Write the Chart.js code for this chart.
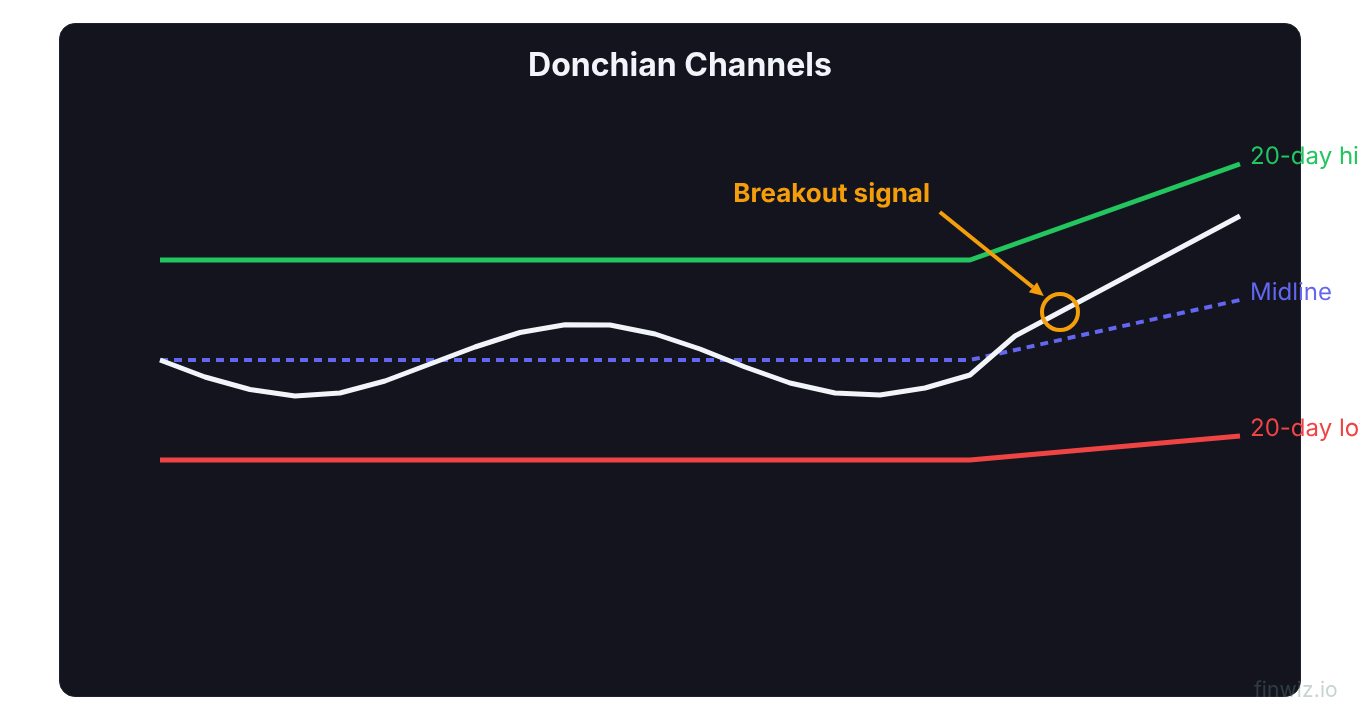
<!DOCTYPE html>
<html>
<head>
<meta charset="utf-8">
<script src="https://cdn.jsdelivr.net/npm/chart.js@4"></script>
<style>
html,body{margin:0;padding:0;width:1360px;height:720px;overflow:hidden;background:#fff;font-family:Inter,sans-serif}
#card{position:absolute;left:59px;top:23px;width:1240px;height:672px;background:#13141e;border:1px solid #20212e;border-radius:16px}
#wrap{position:absolute;left:0;top:0;width:1360px;height:720px}
#mark{position:absolute;left:1254px;top:677px;font:21px Inter,sans-serif;line-height:26px;letter-spacing:.1px;color:rgba(100,135,125,.36)}
</style>
</head>
<body>
<div id="card"></div>
<div id="wrap"><canvas id="c" width="1360" height="720"></canvas></div>
<div id="mark">finwiz.io</div>
<script>
const days = ['0','1','2','3','4','5','6','7','8','9','10','11','12','13','14','15','16','17','18','19','20','21','22','23','24'];
const high = [120,null,null,null,null,null,null,null,null,null,null,null,null,null,null,null,null,null,120,null,null,null,null,null,139.2];
const low = [80,null,null,null,null,null,null,null,null,null,null,null,null,null,null,null,null,null,80,null,null,null,null,null,84.8];
const mid = [100,null,null,null,null,null,null,null,null,null,null,null,null,null,null,null,null,null,100,null,null,null,null,null,112];
const close = [100,96.6,94.1,92.8,93.4,95.8,99.2,102.6,105.5,107.05,107,105.2,102.2,98.6,95.4,93.4,93,94.4,97,104.8,null,null,null,null,128.8];
const signal = [null,null,null,null,null,null,null,null,null,null,null,null,null,null,null,null,null,null,null,null,109.6,null,null,null,null];
const seriesLabels = ['20-day high','Midline','20-day low'];
const titleText = 'Donchian Channels';
const noteText = 'Breakout signal';
const arrowFrom = {x:17.33,y:129.6};
const arrowTo = {x:19.64,y:112.8};
const noteAt = {x:12.74,y:133.2};

const overlay = {
  id:'overlay',
  afterLayout(chart){
    chart.titleBlock.left = 0;
    chart.titleBlock.right = 1360;
  },
  afterDatasetsDraw(chart){
    const {ctx,scales:{x,y}} = chart;
    const X = v => x.left + (x.right-x.left)*v/24, Y = v => y.getPixelForValue(v);
    ctx.save();
    ctx.textBaseline='middle';ctx.textAlign='left';
    ctx.font='24px Inter, sans-serif';
    ctx.textRendering='geometricPrecision';
    [[high,'#22c55e',0],[mid,'#6366f1',1],[low,'#ef4444',2]].forEach(([s,col,i])=>{
      ctx.fillStyle=col;
      ctx.fillText(seriesLabels[i],X(24)+10,Y(s[24])-7);
    });
    ctx.fillStyle='#f59e0b';ctx.font='700 26px Inter, sans-serif';
    ctx.fillText(noteText,X(noteAt.x),Y(noteAt.y));
    const x0=X(arrowFrom.x),y0=Y(arrowFrom.y),x1=X(arrowTo.x),y1=Y(arrowTo.y);
    const a=Math.atan2(y1-y0,x1-x0),L=14,W=6.5;
    const bx=x1-L*Math.cos(a),by=y1-L*Math.sin(a);
    ctx.strokeStyle='#f59e0b';ctx.lineWidth=4;
    ctx.beginPath();ctx.moveTo(x0,y0);ctx.lineTo(bx,by);ctx.stroke();
    ctx.beginPath();ctx.moveTo(x1,y1);
    ctx.lineTo(bx-W*Math.sin(a),by+W*Math.cos(a));
    ctx.lineTo(bx+W*Math.sin(a),by-W*Math.cos(a));
    ctx.closePath();ctx.fill();
    ctx.restore();
  }
};

const line = (label,data,color,width,order,extra={}) => Object.assign({
  label,data,borderColor:color,backgroundColor:color,borderWidth:width,
  pointRadius:0,tension:0,spanGaps:true,fill:false,clip:false,order,borderCapStyle:'butt',borderJoinStyle:'round'
},extra);

new Chart(document.getElementById('c'),{
  type:'line',
  data:{labels:days,datasets:[
    line('20-day high',high,'#22c55e',5,4),
    line('20-day low',low,'#ef4444',5,4),
    line('Midline',mid,'#6366f1',4,3,{borderDash:[8,6]}),
    line('Close',close,'#f1f5f9',5,2),
    line('Signal',signal,'#f59e0b',4,1,{showLine:false,pointRadius:18,pointBorderWidth:4,pointBackgroundColor:'rgba(0,0,0,0)',pointBorderColor:'#f59e0b'})
  ]},
  options:{
    responsive:false,animation:false,devicePixelRatio:1,
    layout:{padding:{left:160,right:120,top:0,bottom:100}},
    plugins:{
      legend:{display:false},tooltip:{enabled:false},
      title:{display:true,text:titleText,color:'#f1f5f9',font:{family:'Inter',size:32,weight:'700',lineHeight:1.1875},padding:{top:47,bottom:15}}
    },
    scales:{
      x:{type:'category',display:false,offset:false,grid:{display:false}},
      y:{type:'linear',display:false,min:48,max:152,grid:{display:false}}
    }
  },
  plugins:[overlay]
});
</script>
</body>
</html>
